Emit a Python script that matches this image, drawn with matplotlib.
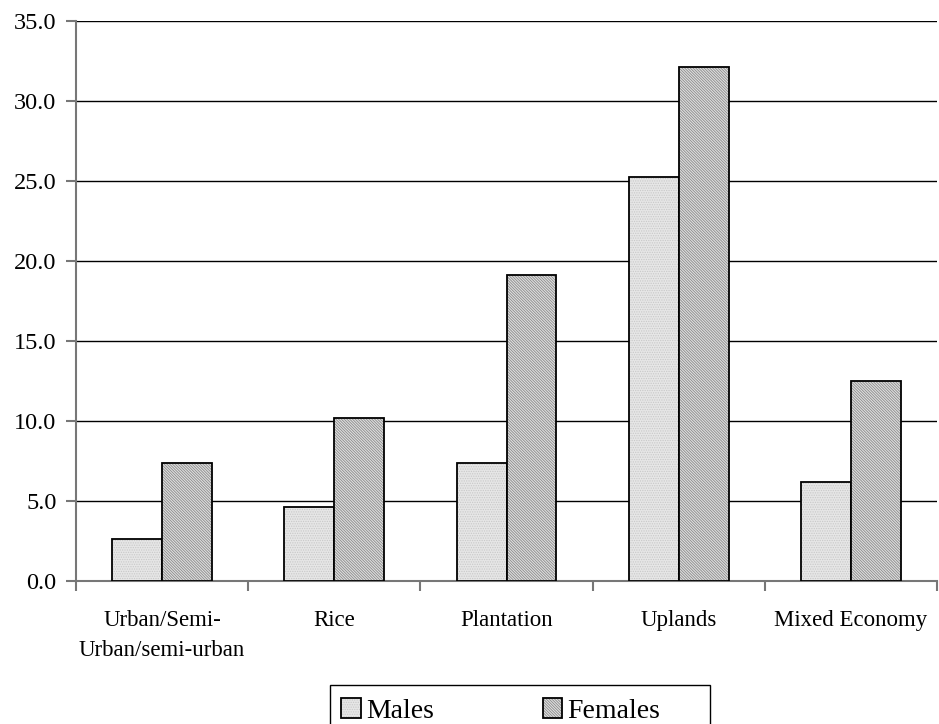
import matplotlib
matplotlib.use("Agg")
import matplotlib.pyplot as plt
from matplotlib.patches import Rectangle
import numpy as np

categories = ["Urban/Semi-\nUrban/semi-urban", "Rice", "Plantation", "Uplands", "Mixed Economy"]
males = [2.6, 4.6, 7.4, 25.25, 6.2]
females = [7.4, 10.2, 19.1, 32.1, 12.5]
yticks = [0.0, 5.0, 10.0, 15.0, 20.0, 25.0, 30.0, 35.0]

plt.rcParams['font.family'] = ['Liberation Serif', 'DejaVu Serif']
plt.rcParams['hatch.linewidth'] = 0.6

fig = plt.figure(figsize=(9.39, 7.24), dpi=100)
ax = fig.add_axes([76/939, 1-581/724, (937-76)/939, (581-21)/724])

x = np.arange(len(categories))
w = 0.29
bm = ax.bar(x - w/2, males, width=w, facecolor='#e6e6e6', edgecolor='black', linewidth=1.3,
            hatch='.......', label='Males', zorder=3)
bf = ax.bar(x + w/2, females, width=w, facecolor='#e0e0e0', edgecolor='black', linewidth=1.3,
            hatch='\\' * 12, label='Females', zorder=3)
for b in bm:
    b._hatch_color = matplotlib.colors.to_rgba('#c8c8c8')
for b in bf:
    b._hatch_color = matplotlib.colors.to_rgba('#8a8a8a')

ax.set_xlim(-0.5, len(categories) - 0.5)
ax.set_ylim(0, 35)
ax.set_yticks(yticks)
ax.set_yticklabels([f"{v:.1f}" for v in yticks], fontsize=17.5)
ax.yaxis.grid(True, color='black', linewidth=1)
ax.set_axisbelow(True)

ax.set_xticks(np.arange(len(categories) + 1) - 0.5, minor=False)
ax.set_xticklabels([])
ax.set_xticks(x, minor=True)
ax.set_xticklabels(categories, minor=True, fontsize=16.5, linespacing=1.55, va='top')
ax.tick_params(axis='x', which='minor', length=0, pad=21)
ax.tick_params(axis='x', which='major', length=7, direction='out', color='#777777', width=1.5)
ax.tick_params(axis='y', length=7, direction='out', color='#777777', width=1.5, pad=7)

for s in ['top', 'right']:
    ax.spines[s].set_visible(False)
ax.spines['left'].set_color('#777777')
ax.spines['left'].set_linewidth(1.5)
ax.spines['bottom'].set_color('#777777')
ax.spines['bottom'].set_linewidth(1.5)

leg = fig.legend(handles=[bm, bf], labels=['Males', 'Females'], loc='upper left',
                 bbox_to_anchor=(333/939, 1-690/724), ncol=2, fontsize=20,
                 frameon=False, handlelength=0.7,
                 handleheight=0.7, handletextpad=0.2, columnspacing=3.9, borderpad=0.3,
                 borderaxespad=0)
fig.patches.append(Rectangle((330/939, -0.01), (710-330)/939, 0.01 + (724-685)/724,
                             transform=fig.transFigure, fill=False, edgecolor='black',
                             linewidth=1.0))

fig.savefig("out.png", dpi=100)
